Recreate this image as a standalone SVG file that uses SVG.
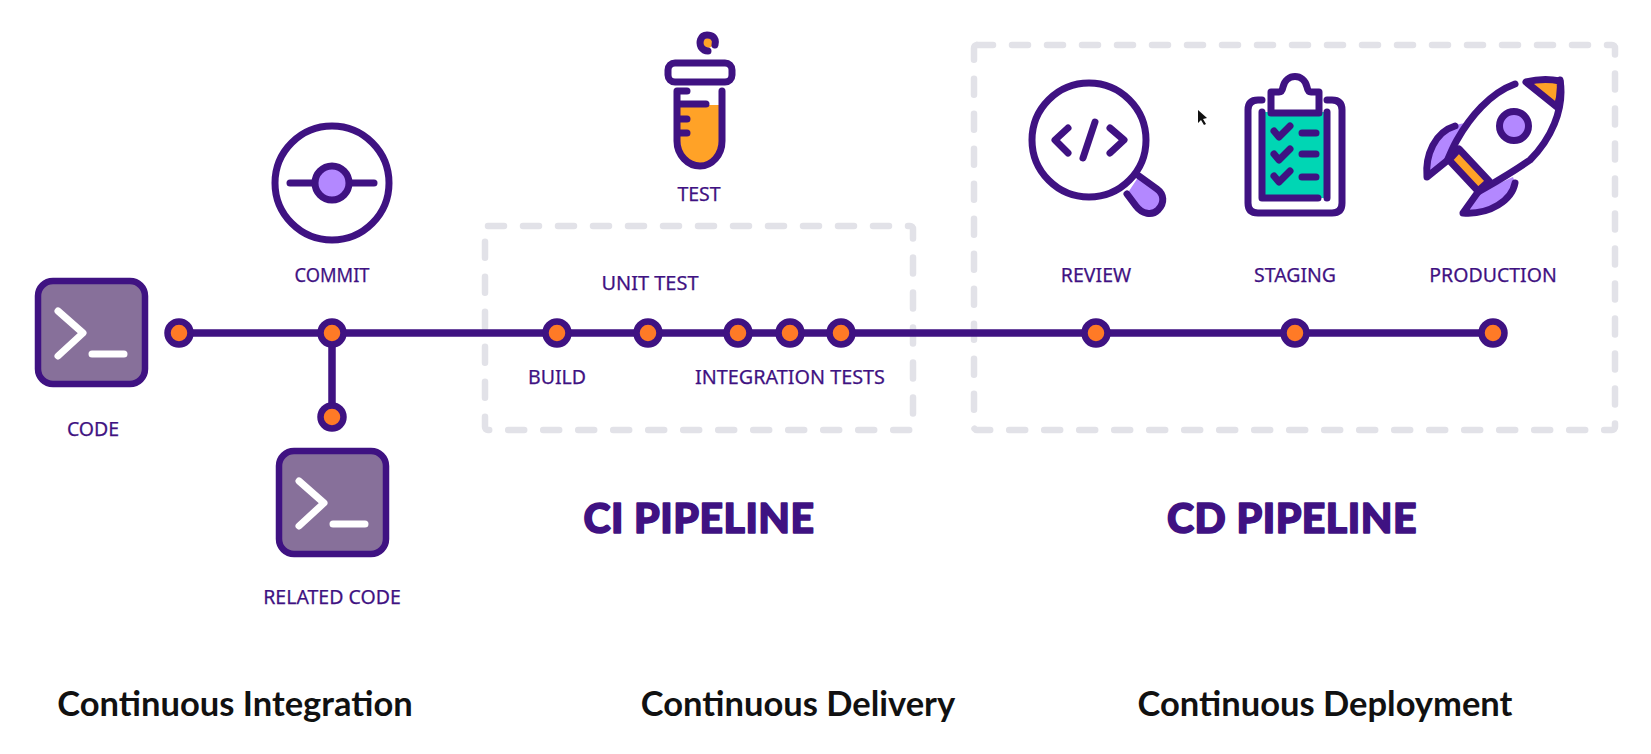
<svg xmlns="http://www.w3.org/2000/svg" width="1651" height="754" viewBox="0 0 1651 754">
<style>
.o{fill:none;stroke:#3f1282;stroke-width:7;stroke-linecap:round;stroke-linejoin:round}
.c{fill:none;stroke:#3f1282;stroke-width:7.5}
.v{fill:#b388ff;stroke:#3f1282;stroke-width:7;stroke-linecap:round;stroke-linejoin:round}
.f{fill:#b388ff}
.y{fill:#ffa227;stroke:#3f1282;stroke-width:7;stroke-linecap:round;stroke-linejoin:round}
.w{fill:#fff;stroke:#3f1282;stroke-width:7;stroke-linecap:round;stroke-linejoin:round}
.d{fill:#ff7a26;stroke:#3f1282;stroke-width:6.5}
.b{fill:#87709a;stroke:#3f1282;stroke-width:6.5}
.p{fill:none;stroke:#fff;stroke-width:7;stroke-linecap:round;stroke-linejoin:round}
.g{fill:none;stroke:#e2e2e8;stroke-width:6.5;stroke-linecap:round;stroke-dasharray:16 19}
.l{font-family:"Noto Sans","Open Sans",sans-serif;font-size:19.5px;fill:#3f1282;text-anchor:middle;stroke:#3f1282;stroke-width:.25}
.h{font-family:"Lato",sans-serif;font-weight:900;font-size:41px;fill:#3f1282;text-anchor:middle;stroke:#3f1282;stroke-width:1.6;stroke-linejoin:round;letter-spacing:.5px}
.t{font-family:"Lato",sans-serif;font-weight:700;font-size:34.5px;fill:#111;text-anchor:middle}
</style>
<rect width="1651" height="754" fill="#fff"/>
<g id="ci-box"><rect class="g" x="485" y="226" width="428" height="204" rx="3"/></g>
<g id="cd-box"><rect class="g" x="974" y="45" width="641" height="385" rx="3"/></g>
<g id="connectors">
<path class="c" d="M179 333H1493M332 333V417"/>
</g>
<g id="code">
<rect class="b" x="38" y="281" width="107" height="103" rx="15"/>
<path class="p" d="M58 311L83 333L58 356M92 354H124"/>
<text class="l" x="93" y="436">CODE</text>
</g>
<g id="related-code">
<rect class="b" x="279" y="451" width="107" height="103" rx="15"/>
<path class="p" d="M299 481L324 503L299 526M333 524H365"/>
<text class="l" x="332" y="604">RELATED CODE</text>
</g>
<g id="commit">
<circle class="w" cx="332" cy="183" r="57"/>
<path class="o" d="M290 183H374"/>
<circle class="v" cx="332" cy="183" r="17"/>
<text class="l" x="332" y="282" textLength="75" lengthAdjust="spacingAndGlyphs">COMMIT</text>
</g>
<g id="test">
<circle cx="708" cy="43" r="5" fill="#ffa227"/>
<path class="o" d="M715 45C717 37 711 35 707 35C700 35 699 43 701 47C703 50 706 51 708 51"/>
<path fill="#ffa227" d="M680 105H719V140C719 155 710 164 699 164C688 164 680 155 680 140Z"/>
<rect class="o" x="668" y="63" width="64" height="19" rx="7"/>
<path class="o" d="M687 91H677V141C677 155 688 166 700 166C712 166 722 155 722 141V91M677 104H706M677 119H687M677 133H687"/>
<text class="l" x="699" y="201">TEST</text>
</g>
<g id="dots">
<circle class="d" cx="179" cy="333" r="11.5"/>
<circle class="d" cx="332" cy="333" r="11.5"/>
<circle class="d" cx="332" cy="417" r="11.5"/>
<circle class="d" cx="557" cy="333" r="11.5"/>
<circle class="d" cx="648" cy="333" r="11.5"/>
<circle class="d" cx="738" cy="333" r="11.5"/>
<circle class="d" cx="790" cy="333" r="11.5"/>
<circle class="d" cx="841" cy="333" r="11.5"/>
<circle class="d" cx="1096" cy="333" r="11.5"/>
<circle class="d" cx="1295" cy="333" r="11.5"/>
<circle class="d" cx="1493" cy="333" r="11.5"/>
</g>
<g id="unit-test"><text class="l" x="650" y="290" textLength="97" lengthAdjust="spacingAndGlyphs">UNIT TEST</text></g>
<g id="build"><text class="l" x="557" y="384">BUILD</text></g>
<g id="integration-tests"><text class="l" x="790" y="384" textLength="190" lengthAdjust="spacingAndGlyphs">INTEGRATION TESTS</text></g>
<g id="review">
<path class="v" d="M1127 194L1136 206C1142 214 1152 216 1158 210C1165 203 1164 194 1157 189L1139 176"/>
<circle class="w" cx="1089" cy="140" r="57"/>
<path class="o" d="M1068 128L1055 140L1068 153M1110 128L1124 140L1110 153M1095 122L1083 158"/>
<text class="l" x="1096" y="282">REVIEW</text>
</g>
<g id="staging">
<path class="o" d="M1262 100H1258Q1248 100 1248 110V203Q1248 213 1258 213H1332Q1342 213 1342 203V110Q1342 100 1332 100H1327"/>
<rect x="1263" y="112" width="64" height="86" fill="#00d6b4"/>
<path class="o" d="M1262 112V198H1318M1327 112V198"/>
<path class="w" d="M1271 113V92H1279Q1282 92 1283 87C1286 73 1304 73 1307 87Q1308 92 1311 92H1319V113Z"/>
<path class="o" d="M1274 131L1279 137L1290 126M1274 154L1279 160L1290 149M1274 176L1279 182L1290 171M1302 133H1316M1302 154H1316M1302 177H1316"/>
<text class="l" x="1295" y="282">STAGING</text>
</g>
<g id="production">
<path class="f" d="M1455 125L1465 123L1448 160L1427 177C1425 155 1435 132 1455 125Z"/>
<path class="f" d="M1515 183L1513 177L1480 192L1463 213C1490 215 1512 200 1515 183Z"/>
<path class="y" d="M1449 160L1459 149L1489 181L1478 191Z"/>
<path class="o" d="M1455 126C1435 132 1425 155 1427 177L1448 160M1515 183C1512 200 1490 215 1463 213L1478 192"/>
<path class="o" d="M1515 84C1490 93 1470 117 1457 140C1453 147 1451 152 1448 159M1478 192C1490 185 1507 176 1530 160C1550 140 1565 110 1560 80"/>
<path class="y" d="M1526 82C1538 79 1550 79 1560 81C1561 90 1560 98 1557 107Z"/>
<circle class="v" cx="1514" cy="126" r="14.5"/>
<text class="l" x="1493" y="282">PRODUCTION</text>
</g>
<g id="ci-pipeline"><text class="h" x="699" y="533">CI PIPELINE</text></g>
<g id="cd-pipeline"><text class="h" x="1292" y="533">CD PIPELINE</text></g>
<g id="continuous-integration"><text class="t" x="235" y="716">Continuous Integration</text></g>
<g id="continuous-delivery"><text class="t" x="798" y="716">Continuous Delivery</text></g>
<g id="continuous-deployment"><text class="t" x="1325" y="716">Continuous Deployment</text></g>
<path fill="#111" d="M1198 110V123L1201 120L1204 125L1206 124L1203 119L1207 118Z"/>
</svg>
